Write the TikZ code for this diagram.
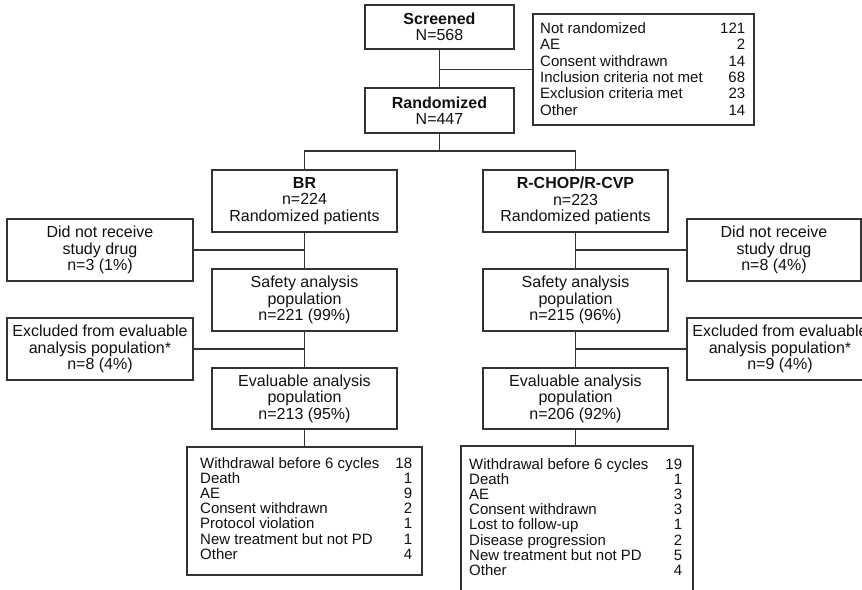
\documentclass[tikz,border=0pt]{standalone}
\usepackage{fontspec}
\setmainfont{Liberation Sans}
\usepackage{array}
\definecolor{linec}{HTML}{333333}
\definecolor{txtc}{HTML}{111111}
\begin{document}
\begin{tikzpicture}[x=1pt,y=-1pt,
  box/.style={draw=linec, line width=1.1pt, inner sep=0pt, align=center, text=txtc, font=\fontsize{16}{16.5}\selectfont},
  listtxt/.style={inner sep=0pt, anchor=north west, text=txtc, font=\fontsize{15}{14.7}\selectfont},
  link/.style={draw=linec, line width=1.1pt}]
\fill[white] (0,0) rectangle (862,589);
\useasboundingbox (0,0) rectangle (862,589);
\clip (0,0) rectangle (862,589);

% top
\node[box, minimum width=149pt, minimum height=44pt] (scr) at (439.5,27) {\textbf{Screened}\\N=568};
\node[box, minimum width=149pt, minimum height=45pt] (rand) at (439.5,110.5) {\textbf{Randomized}\\N=447};
\node[box, minimum width=221pt, minimum height=111pt] (nr) at (643.5,69.5) {};
\node[listtxt, font=\fontsize{15}{16.3}\selectfont] (nrt) at (540,22) {\begin{tabular*}{205pt}{@{}l@{\extracolsep{\fill}}r@{}}
Not randomized & 121\\
AE & 2\\
Consent withdrawn & 14\\
Inclusion criteria not met & 68\\
Exclusion criteria met & 23\\
Other & 14
\end{tabular*}};

% arms
\node[box, minimum width=185pt, minimum height=62pt] (br) at (304.5,201) {\textbf{BR}\\n=224\\Randomized patients};
\node[box, minimum width=185pt, minimum height=62pt] (sa) at (304.5,300) {Safety analysis\\population\\n=221 (99\%)};
\node[box, minimum width=185pt, minimum height=61pt] (ev) at (304.5,398.5) {Evaluable analysis\\population\\n=213 (95\%)};
\node[box, minimum width=185pt, minimum height=62pt] (rc) at (575.5,201) {\textbf{R-CHOP/R-CVP}\\n=223\\Randomized patients};
\node[box, minimum width=185pt, minimum height=62pt] (sa2) at (575.5,300) {Safety analysis\\population\\n=215 (96\%)};
\node[box, minimum width=185pt, minimum height=61pt] (ev2) at (575.5,398.5) {Evaluable analysis\\population\\n=206 (92\%)};

% side boxes
\node[box, minimum width=186pt, minimum height=62pt] (dnr1) at (100,250) {Did not receive\\study drug\\n=3 (1\%)};
\node[box, minimum width=186pt, minimum height=62pt] (ex1) at (100,349) {Excluded from evaluable\\analysis population*\\n=8 (4\%)};
\node[box, minimum width=174pt, minimum height=62pt] (dnr2) at (774,250) {Did not receive\\study drug\\n=8 (4\%)};
\node[box, minimum width=186pt, minimum height=62pt] (ex2) at (780,349) {Excluded from evaluable\\analysis population*\\n=9 (4\%)};

% lists
\node[box, minimum width=235pt, minimum height=128pt] (l1) at (304.5,511) {};
\node[listtxt] (l1t) at (200,457) {\begin{tabular*}{212pt}{@{}l@{\extracolsep{\fill}}r@{}}
Withdrawal before 6 cycles & 18\\
Death & 1\\
AE & 9\\
Consent withdrawn & 2\\
Protocol violation & 1\\
New treatment but not PD & 1\\
Other & 4
\end{tabular*}};
\node[box, minimum width=232pt, minimum height=156pt] (l2) at (577,524) {};
\node[listtxt] (l2t) at (469,458) {\begin{tabular*}{213pt}{@{}l@{\extracolsep{\fill}}r@{}}
Withdrawal before 6 cycles & 19\\
Death & 1\\
AE & 3\\
Consent withdrawn & 3\\
Lost to follow-up & 1\\
Disease progression & 2\\
New treatment but not PD & 5\\
Other & 4
\end{tabular*}};

% connectors
\coordinate (split) at (439.5,151);
\path[link] (scr.south) -- (rand.north);
\path[link] (nr.west) -- (nr.west -| scr.south);
\path[link] (rand.south) -- (split);
\path[link] (br.north) |- (split) -| (rc.north);
\path[link] (br.south) -- (sa.north);
\path[link] (sa.south) -- (ev.north);
\path[link] (ev.south) -- (l1.north);
\path[link] (rc.south) -- (sa2.north);
\path[link] (sa2.south) -- (ev2.north);
\path[link] (ev2.south) -- (ev2.south |- l2.north);
\path[link] (dnr1.east) -- (dnr1.east -| br.south);
\path[link] (ex1.east) -- (ex1.east -| sa.south);
\path[link] (dnr2.west) -- (dnr2.west -| rc.south);
\path[link] (ex2.west) -- (ex2.west -| sa2.south);
\end{tikzpicture}
\end{document}
